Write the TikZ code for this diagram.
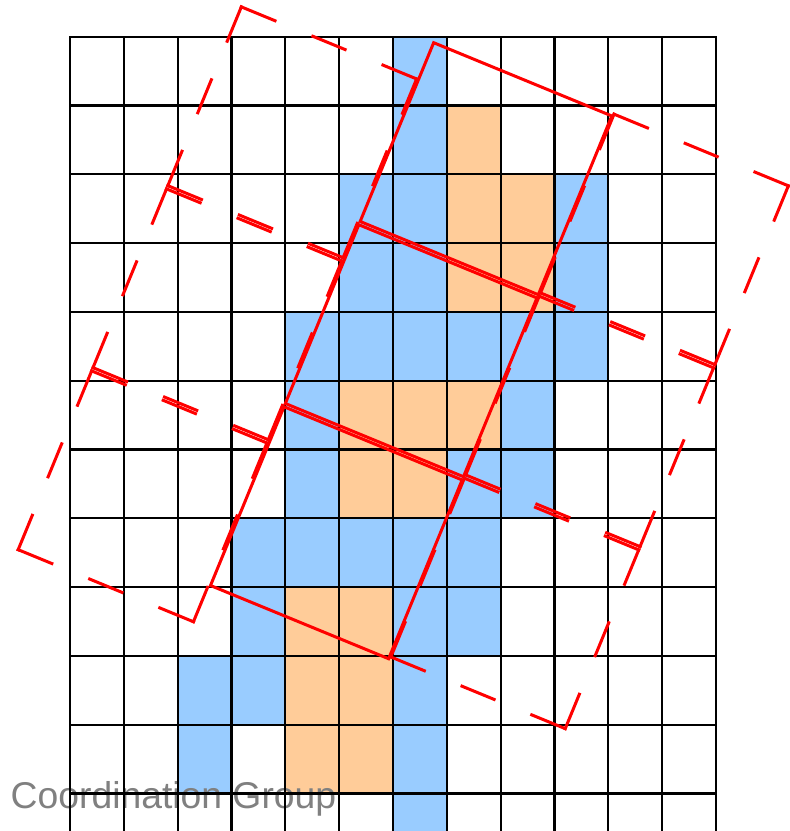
\documentclass[tikz,border=0pt]{standalone}
\usepackage{fontspec}
\setmainfont{Liberation Sans}
\definecolor{cellblue}{HTML}{99CCFF}
\definecolor{cellorange}{HTML}{FFCC99}
\newcommand\cw{53.8333}
\newcommand\ch{68.8}
\newcommand\mycell[3]{\fill[#3] ({70+#1*\cw},{36.7+#2*\ch}) rectangle ++(\cw,\ch);}
\newcommand\dedge[3]{%
  \pgfmathsetmacro\dA{#3/5-1.5}%
  \pgfmathsetmacro\dB{#3/5-3}%
  \pgfmathsetmacro\dG{#3/5+3}%
  \draw[redpen, line cap=rect, dash pattern=on \dA pt off \dG pt on \dB pt off \dG pt on \dA pt off 500pt] #1 -- #2;}
\newcommand\dsquare[4]{% p0 p1 q0 q1
  \pgfmathsetmacro\wd{#2-#1}%
  \pgfmathsetmacro\ht{#4-#3}%
  \dedge{(#1,#3)}{(#2,#3)}{\wd}%
  \dedge{(#2,#3)}{(#2,#4)}{\ht}%
  \dedge{(#2,#4)}{(#1,#4)}{\wd}%
  \dedge{(#1,#4)}{(#1,#3)}{\ht}}
\tikzset{
  gridline/.style={black, line width=2.2pt, line cap=rect},
  redpen/.style={red, line width=3pt},
  solidsq/.style={redpen, line join=miter},
}
\begin{document}
\begin{tikzpicture}[x=1pt,y=-1pt]
\useasboundingbox (0,0) rectangle (790,831);
\clip (0,0) rectangle (790,831);
% coloured cells
\foreach \c/\r in {6/0,6/1,5/2,6/2,9/2,5/3,6/3,9/3,4/4,5/4,6/4,7/4,8/4,9/4,4/5,8/5,4/6,7/6,8/6,3/7,4/7,5/7,6/7,7/7,3/8,6/8,7/8,2/9,3/9,6/9,2/10,6/10,6/11}
  {\mycell{\c}{\r}{cellblue}}
\foreach \c/\r in {7/1,7/2,8/2,7/3,8/3,5/5,6/5,7/5,5/6,6/6,4/8,5/8,4/9,5/9,4/10,5/10}
  {\mycell{\c}{\r}{cellorange}}
% watermark
\node[anchor=base west, inner sep=0pt, text=black!50, font=\fontsize{37.3}{38}\selectfont] (wm) at (10.5,808) {Coordination Group};
% grid
\foreach \i in {0,...,12} {\draw[gridline] ({70+\i*\cw},36.7) -- ({70+\i*\cw},845);}
\foreach \j in {0,...,11} {\draw[gridline] (70,{36.7+\j*\ch}) -- (716,{36.7+\j*\ch});}
% rotated frames
\begin{scope}[shift={(210.5,585.5)}, x={(0.92487pt,-0.38023pt)}, y={(0.38023pt,0.92487pt)}]
  \foreach \k in {0,1,2} {
    \pgfmathsetmacro\qa{\k*196.8}
    \pgfmathsetmacro\qb{\k*196.8+193.3}
    \draw[solidsq] (0,\qa) -- (192.6,\qa) -- (192.6,\qb) -- (0,\qb) -- cycle;
  }
  \foreach \k in {0,1,2} {
    \pgfmathsetmacro\qa{-40+\k*196.8}
    \pgfmathsetmacro\qb{-40+\k*196.8+193.3}
    \dsquare{-191.5}{-2}{\qa}{\qb}
  }
  \foreach \k in {0,1,2} {
    \pgfmathsetmacro\qa{2.5+\k*196.8}
    \pgfmathsetmacro\qb{2.5+\k*196.8+193.3}
    \dsquare{194}{382.5}{\qa}{\qb}
  }
\end{scope}
\end{tikzpicture}
\end{document}
